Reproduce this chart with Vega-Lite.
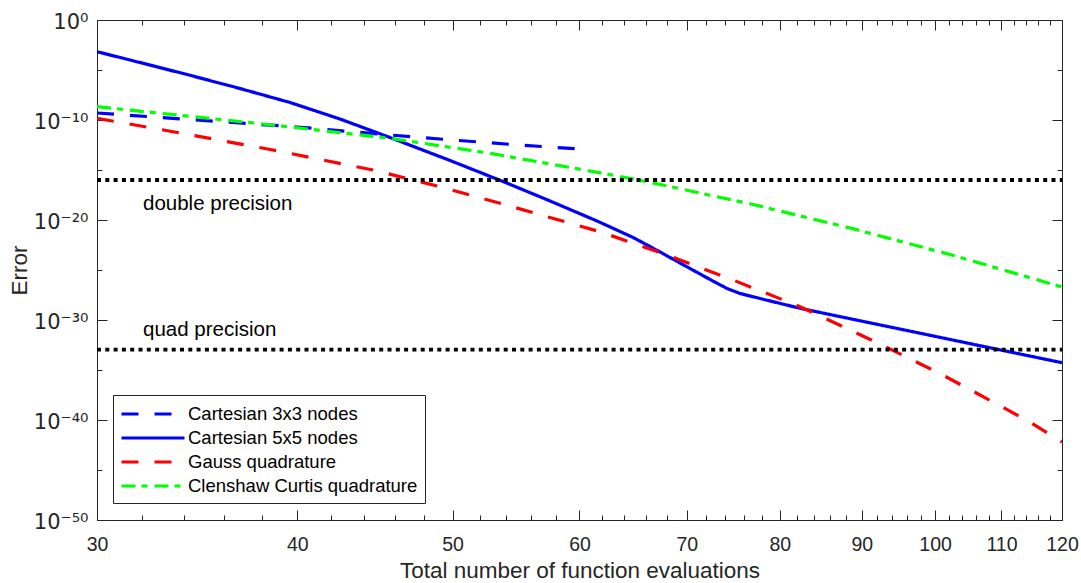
{
  "$schema": "https://vega.github.io/schema/vega-lite/v6.json",
  "width": 965,
  "height": 500,
  "autosize": {"type": "none"},
  "padding": {"left": 97, "top": 20, "right": 19, "bottom": 63},
  "background": "white",
  "config": {
    "view": {"stroke": null},
    "axis": {
      "grid": false,
      "domainColor": "#262626",
      "tickColor": "#262626",
      "labelColor": "#262626",
      "titleColor": "#262626",
      "labelFont": "Liberation Sans",
      "titleFont": "Liberation Sans",
      "titleFontWeight": "normal",
      "domainWidth": 1,
      "tickWidth": 1
    },
    "text": {"font": "Liberation Sans"}
  },
  "datasets": {
    "curves": [
      {"series": "Cartesian 3x3 nodes", "n": 30, "err": 5.01e-10},
      {"series": "Cartesian 3x3 nodes", "n": 36.8, "err": 5.01e-11},
      {"series": "Cartesian 3x3 nodes", "n": 40, "err": 2e-11},
      {"series": "Cartesian 3x3 nodes", "n": 45.7, "err": 3.16e-12},
      {"series": "Cartesian 3x3 nodes", "n": 50, "err": 1e-12},
      {"series": "Cartesian 3x3 nodes", "n": 55, "err": 3.16e-13},
      {"series": "Cartesian 3x3 nodes", "n": 60, "err": 1.26e-13},
      {"series": "Cartesian 5x5 nodes", "n": 30, "err": 6.76e-4},
      {"series": "Cartesian 5x5 nodes", "n": 32.37, "err": 3.16e-5},
      {"series": "Cartesian 5x5 nodes", "n": 34.29, "err": 2.95e-6},
      {"series": "Cartesian 5x5 nodes", "n": 36.84, "err": 1.41e-7},
      {"series": "Cartesian 5x5 nodes", "n": 39.59, "err": 5.62e-9},
      {"series": "Cartesian 5x5 nodes", "n": 42.53, "err": 1.26e-10},
      {"series": "Cartesian 5x5 nodes", "n": 45.7, "err": 1.78e-12},
      {"series": "Cartesian 5x5 nodes", "n": 49.82, "err": 8.91e-15},
      {"series": "Cartesian 5x5 nodes", "n": 53.76, "err": 7.08e-17},
      {"series": "Cartesian 5x5 nodes", "n": 57.52, "err": 7.94e-19},
      {"series": "Cartesian 5x5 nodes", "n": 61.53, "err": 7.94e-21},
      {"series": "Cartesian 5x5 nodes", "n": 64.8, "err": 1.78e-22},
      {"series": "Cartesian 5x5 nodes", "n": 66.4, "err": 2.24e-23},
      {"series": "Cartesian 5x5 nodes", "n": 69.32, "err": 5.01e-25},
      {"series": "Cartesian 5x5 nodes", "n": 72.38, "err": 1.12e-26},
      {"series": "Cartesian 5x5 nodes", "n": 74.17, "err": 1.41e-27},
      {"series": "Cartesian 5x5 nodes", "n": 75.56, "err": 4.47e-28},
      {"series": "Cartesian 5x5 nodes", "n": 77.77, "err": 1.41e-28},
      {"series": "Cartesian 5x5 nodes", "n": 82.37, "err": 1.48e-29},
      {"series": "Cartesian 5x5 nodes", "n": 88.5, "err": 1.35e-30},
      {"series": "Cartesian 5x5 nodes", "n": 97.45, "err": 5.5e-32},
      {"series": "Cartesian 5x5 nodes", "n": 110.26, "err": 8.91e-34},
      {"series": "Cartesian 5x5 nodes", "n": 120, "err": 5.37e-35},
      {"series": "Gauss quadrature", "n": 30, "err": 1.48e-10},
      {"series": "Gauss quadrature", "n": 33.46, "err": 6.76e-12},
      {"series": "Gauss quadrature", "n": 38.63, "err": 1e-13},
      {"series": "Gauss quadrature", "n": 44.6, "err": 1e-15},
      {"series": "Gauss quadrature", "n": 49.11, "err": 2.14e-17},
      {"series": "Gauss quadrature", "n": 53.53, "err": 4.68e-19},
      {"series": "Gauss quadrature", "n": 61.79, "err": 6.76e-22},
      {"series": "Gauss quadrature", "n": 68.04, "err": 3.16e-24},
      {"series": "Gauss quadrature", "n": 74.81, "err": 1e-26},
      {"series": "Gauss quadrature", "n": 82.37, "err": 2.14e-29},
      {"series": "Gauss quadrature", "n": 92.4, "err": 3.98e-33},
      {"series": "Gauss quadrature", "n": 100.73, "err": 4.27e-36},
      {"series": "Gauss quadrature", "n": 109.79, "err": 2.69e-39},
      {"series": "Gauss quadrature", "n": 114.62, "err": 5.89e-41},
      {"series": "Gauss quadrature", "n": 120, "err": 6.31e-43},
      {"series": "Clenshaw Curtis quadrature", "n": 30, "err": 2.14e-9},
      {"series": "Clenshaw Curtis quadrature", "n": 37.75, "err": 4.68e-11},
      {"series": "Clenshaw Curtis quadrature", "n": 45.7, "err": 1.48e-12},
      {"series": "Clenshaw Curtis quadrature", "n": 52.76, "err": 4.68e-14},
      {"series": "Clenshaw Curtis quadrature", "n": 62.42, "err": 3.98e-16},
      {"series": "Clenshaw Curtis quadrature", "n": 66.4, "err": 5.89e-17},
      {"series": "Clenshaw Curtis quadrature", "n": 76.66, "err": 4.17e-19},
      {"series": "Clenshaw Curtis quadrature", "n": 88.5, "err": 1.58e-21},
      {"series": "Clenshaw Curtis quadrature", "n": 102.18, "err": 3.55e-24},
      {"series": "Clenshaw Curtis quadrature", "n": 120, "err": 2e-27}
    ],
    "limits": [
      {"name": "double", "err": 1e-16},
      {"name": "quad", "err": 1.1e-33}
    ],
    "notes": [
      {"label": "double precision", "n": 32.05, "err": 1e-19},
      {"label": "quad precision", "n": 32.05, "err": 2.5e-32}
    ]
  },
  "layer": [
    {
      "data": {"name": "curves"},
      "mark": {"type": "line", "strokeWidth": 3.2, "strokeCap": "butt", "strokeJoin": "round", "clip": true},
      "encoding": {
        "x": {
          "field": "n", "type": "quantitative",
          "scale": {"type": "log", "domain": [30, 120], "nice": false},
          "axis": {
            "orient": "bottom",
            "values": [30, 40, 50, 60, 70, 80, 90, 100, 110, 120],
            "format": "d",
            "tickSize": -10,
            "labelPadding": 25,
            "labelFontSize": 19.5,
            "labelFlush": false,
            "labelOverlap": false,
            "title": "Total number of function evaluations",
            "titleFontSize": 22.5,
            "titlePadding": 6
          }
        },
        "y": {
          "field": "err", "type": "quantitative",
          "scale": {"type": "log", "domain": [1e-50, 1], "nice": false},
          "axis": {
            "orient": "left",
            "values": [1, 1e-10, 1e-20, 1e-30, 1e-40, 1e-50],
            "labelExpr": "['10⁰','10⁻¹⁰','10⁻²⁰','10⁻³⁰','10⁻⁴⁰','10⁻⁵⁰'][round(-log(datum.value)/LN10/10)]",
            "tickSize": -10,
            "labelPadding": 19,
            "labelFont": "DejaVu Sans",
            "labelFontSize": 21,
            "labelOverlap": false,
            "labelBaseline": "middle",
            "labelOffset": 2,
            "title": "Error",
            "titleFontSize": 22.5,
            "titlePadding": 2
          }
        },
        "color": {
          "field": "series", "type": "nominal",
          "scale": {
            "domain": ["Cartesian 3x3 nodes", "Cartesian 5x5 nodes", "Gauss quadrature", "Clenshaw Curtis quadrature"],
            "range": ["#0000ff", "#0000ff", "#ff0000", "#00ff00"]
          },
          "legend": {
            "title": null,
            "orient": "none",
            "legendX": 16,
            "legendY": 375,
            "symbolType": "M-1,0H5",
            "symbolSize": 441,
            "symbolStrokeWidth": 3,
            "symbolFillColor": "transparent",
            "labelFontSize": 18.5,
            "labelFont": "Liberation Sans",
            "labelColor": "#000000",
            "labelOffset": 44,
            "labelLimit": 400,
            "strokeColor": "#262626",
            "fillColor": "white",
            "padding": 7,
            "rowPadding": 2
          }
        },
        "strokeDash": {
          "field": "series", "type": "nominal",
          "scale": {
            "domain": ["Cartesian 3x3 nodes", "Cartesian 5x5 nodes", "Gauss quadrature", "Clenshaw Curtis quadrature"],
            "range": [[17, 16], [1, 0], [17, 16], [14, 6, 6, 7]]
          },
          "legend": {
            "title": null,
            "orient": "none",
            "legendX": 16,
            "legendY": 375,
            "symbolType": "M-1,0H5",
            "symbolSize": 441,
            "symbolStrokeWidth": 3,
            "symbolFillColor": "transparent",
            "labelFontSize": 18.5,
            "labelFont": "Liberation Sans",
            "labelColor": "#000000",
            "labelOffset": 44,
            "labelLimit": 400,
            "strokeColor": "#262626",
            "fillColor": "white",
            "padding": 7,
            "rowPadding": 2
          }
        }
      }
    },
    {
      "data": {"name": "limits"},
      "mark": {"type": "rule", "strokeDash": [4, 4.3], "strokeWidth": 3.8, "color": "#000000"},
      "encoding": {
        "x": {
          "datum": 30, "type": "quantitative",
          "scale": {"type": "log", "domain": [30, 120], "nice": false},
          "axis": {"orient": "top", "values": [30, 40, 50, 60, 70, 80, 90, 100, 110, 120], "labels": false, "tickSize": -10, "title": null}
        },
        "x2": {"datum": 120},
        "y": {
          "field": "err", "type": "quantitative",
          "scale": {"type": "log", "domain": [1e-50, 1], "nice": false},
          "axis": {"orient": "right", "values": [1, 1e-10, 1e-20, 1e-30, 1e-40, 1e-50], "labels": false, "tickSize": -10, "title": null}
        }
      }
    },
    {
      "data": {"name": "notes"},
      "transform": [{"filter": "datum.label === 'double precision'"}],
      "mark": {"type": "text", "align": "left", "baseline": "alphabetic", "fontSize": 20.5, "font": "Liberation Sans", "color": "#000000"},
      "encoding": {
        "x": {
          "field": "n", "type": "quantitative",
          "scale": {"type": "log", "domain": [30, 120], "nice": false},
          "axis": {"orient": "bottom", "values": [32, 34, 36, 38, 42, 44, 46, 48, 52, 54, 56, 58, 62, 64, 66, 68, 72, 74, 76, 78, 82, 84, 86, 88, 92, 94, 96, 98, 102, 104, 106, 108, 112, 114, 116, 118], "labels": false, "domain": false, "tickSize": -5, "title": null}
        },
        "y": {
          "field": "err", "type": "quantitative",
          "scale": {"type": "log", "domain": [1e-50, 1], "nice": false},
          "axis": {"orient": "left", "values": [1e-5, 1e-15, 1e-25, 1e-35, 1e-45], "labels": false, "domain": false, "tickSize": -5, "title": null}
        },
        "text": {"field": "label"}
      }
    },
    {
      "data": {"name": "notes"},
      "transform": [{"filter": "datum.label === 'quad precision'"}],
      "mark": {"type": "text", "align": "left", "baseline": "alphabetic", "fontSize": 20.5, "font": "Liberation Sans", "color": "#000000"},
      "encoding": {
        "x": {
          "field": "n", "type": "quantitative",
          "scale": {"type": "log", "domain": [30, 120], "nice": false},
          "axis": {"orient": "top", "values": [32, 34, 36, 38, 42, 44, 46, 48, 52, 54, 56, 58, 62, 64, 66, 68, 72, 74, 76, 78, 82, 84, 86, 88, 92, 94, 96, 98, 102, 104, 106, 108, 112, 114, 116, 118], "labels": false, "domain": false, "tickSize": -5, "title": null}
        },
        "y": {
          "field": "err", "type": "quantitative",
          "scale": {"type": "log", "domain": [1e-50, 1], "nice": false},
          "axis": {"orient": "right", "values": [1e-5, 1e-15, 1e-25, 1e-35, 1e-45], "labels": false, "domain": false, "tickSize": -5, "title": null}
        },
        "text": {"field": "label"}
      }
    }
  ],
  "resolve": {"axis": {"x": "independent", "y": "independent"}}
}
